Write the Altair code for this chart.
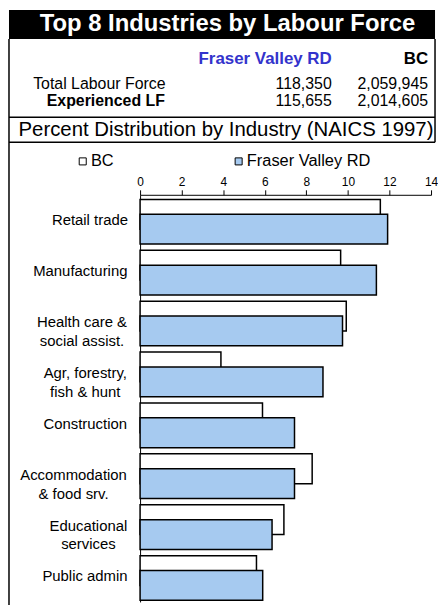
import altair as alt
import pandas as pd

# ---------------- data ----------------
industries = [
    "Retail trade",
    "Manufacturing",
    "Health care &|social assist.",
    "Agr, forestry,|fish & hunt",
    "Construction",
    "Accommodation|& food srv.",
    "Educational|services",
    "Public admin",
]
bc_pct = [11.56, 9.65, 9.92, 3.89, 5.89, 8.28, 6.92, 5.60]
fv_pct = [11.91, 11.37, 9.74, 8.80, 7.43, 7.43, 6.35, 5.90]

series_names = ["BC", "Fraser Valley RD"]
series_colors = ["#FFFFFF", "#A6CAF0"]

title_text = "Top 8 Industries by Labour Force"
subtitle_text = "Percent Distribution by Industry (NAICS 1997)"
table_header = ["Fraser Valley RD", "BC"]
row_labels = ["Total Labour Force", "Experienced LF"]
fv_counts = ["118,350", "115,655"]
bc_counts = ["2,059,945", "2,014,605"]
x_ticks = [0, 2, 4, 6, 8, 10, 12, 14]

df = pd.DataFrame({
    "industry": industries + industries,
    "series": [series_names[0]] * len(industries) + [series_names[1]] * len(industries),
    "pct": bc_pct + fv_pct,
})

FONT = "Liberation Sans, Arial, sans-serif"
one = pd.DataFrame({"k": [0]})

# distance from the axis to the centre of each (centred, multi-line) label block
label_gap = [51, 60.7, 59, 55.7, 55.7, 67.5, 52.5, 56]
pad_expr = ""
for name, g in zip(industries, label_gap):
    pad_expr += "datum.value == '%s' ? %s : " % (name, g)
pad_expr += "13"


def txt(s, x, y, size, weight="normal", color="black", align="center"):
    return alt.Chart(one).mark_text(
        text=s, fontSize=size, fontWeight=weight, color=color,
        align=align, baseline="middle", font=FONT
    ).encode(x=alt.value(x), y=alt.value(y))


def rule(x, x2, y, y2):
    return alt.Chart(one).mark_rule(color="black", strokeWidth=1.5).encode(
        x=alt.value(x), x2=alt.value(x2), y=alt.value(y), y2=alt.value(y2)
    )


L, R = -132, 297

header = [
    alt.Chart(one).mark_rect(color="black").encode(
        x=alt.value(L), x2=alt.value(R), y=alt.value(-186), y2=alt.value(-157)
    ),
    txt(title_text, 88, -171.5, 24, "bold", "white"),
    txt(table_header[0], 193, -137, 17, "bold", "#3333CC", "right"),
    txt(table_header[1], 290, -137, 17, "bold", "black", "right"),
    txt(row_labels[0], -41, -112, 16),
    txt(fv_counts[0], 193, -112, 16, align="right"),
    txt(bc_counts[0], 290, -112, 16, align="right"),
    txt(row_labels[1], -34.5, -94, 16, "bold"),
    txt(fv_counts[1], 193, -94, 16, align="right"),
    txt(bc_counts[1], 290, -94, 16, align="right"),
    rule(L, R, -78, -78),
    txt(subtitle_text, 86.5, -65, 20.5),
    rule(L, R, -53, -53),
    rule(L, L, -157, 413),
    rule(R, R, -157, -53),
]

x_enc = alt.X(
    "pct:Q",
    scale=alt.Scale(domain=[0, 14], nice=False, zero=True),
    axis=alt.Axis(
        orient="top", values=x_ticks, title=None, grid=False, tickSize=5,
        tickColor="black", domainColor="black", labelFontSize=12,
        labelColor="black", labelFont=FONT, labelPadding=1, labelFlush=False,
    ),
)
y_enc = alt.Y(
    "industry:N",
    sort=industries,
    scale=alt.Scale(paddingInner=0, paddingOuter=0),
    axis=alt.Axis(
        title=None, ticks=False, tickSize=0,
        labelExpr="split(datum.label, '|')", labelFontSize=15,
        labelColor="black", labelFont=FONT,
        labelPadding=alt.ExprRef(expr=pad_expr),
        labelLineHeight=19, domainColor="black", labelAlign="center",
        labelBaseline="middle", labelLimit=200,
    ),
)
color_enc = alt.Color(
    "series:N",
    scale=alt.Scale(domain=series_names, range=series_colors),
    legend=alt.Legend(
        title=None, orient="none", legendX=-66, legendY=-42,
        direction="horizontal", columns=2, columnPadding=117,
        symbolType="square", symbolSize=50, symbolStrokeColor="black",
        symbolStrokeWidth=1, labelFontSize=16.5, labelFont=FONT,
        labelColor="black", labelOffset=0, padding=0,
    ),
)

bc_layer = alt.Chart(df).transform_filter(
    alt.datum.series == series_names[0]
).mark_bar(height=30, yOffset=-6, stroke="black", strokeWidth=1.5).encode(
    x=x_enc, y=y_enc, color=color_enc
)
fv_layer = alt.Chart(df).transform_filter(
    alt.datum.series == series_names[1]
).mark_bar(height=30, yOffset=9, stroke="black", strokeWidth=1.5).encode(
    x=x_enc, y=y_enc, color=color_enc
)

chart = alt.layer(*header, bc_layer, fv_layer).properties(
    width=293, height=410, padding=0, background="white"
).configure_view(stroke=None)

chart.save("out.html", embed_options={"renderer": "svg", "actions": False})
